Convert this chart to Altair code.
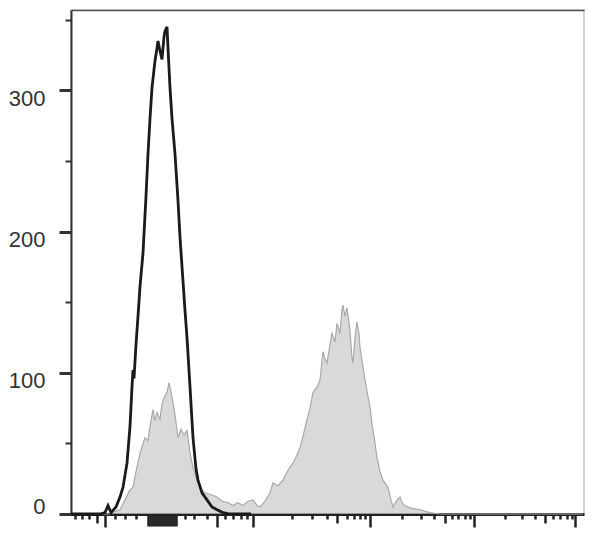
import altair as alt
import pandas as pd

# Control (black outline) histogram: channel, count
ctrl_ch = [0, 10, 14.5, 17, 18.5, 20, 22.5, 24.5, 26, 28, 29.5, 30.5, 31, 31.5, 32.5, 33.5,
           34.5, 36, 37.5, 38.5, 39.5, 40.5, 42, 43, 43.5, 44.5, 45.5, 46.5, 47, 48, 48.5,
           49.5, 50.5, 52, 53.5, 54.5, 56, 57, 58, 59.5, 61, 62.5, 63.5, 65.5, 68, 70.5,
           73, 76, 79.5, 90]
ctrl_ct = [0, 0, 0, 1, 6, 1, 5, 12, 19, 36, 62, 90, 102, 96, 120, 140,
           161, 185, 225, 255, 280, 302, 321, 330, 335, 328, 322, 338, 342, 345, 330,
           302, 280, 255, 222, 196, 165, 144, 125, 90, 54, 32, 24, 15, 10, 5,
           3, 1, 0, 0]

# Stained (grey filled) histogram: channel, count
stain_ch = [0, 19.5, 22.5, 24.5, 27, 29, 31, 32.5, 34.5, 36, 37, 38.5, 39.5, 41, 42, 43,
            44.5, 45.5, 47, 48, 49, 49.5, 51, 52, 53.5, 55, 56.5, 58, 59.5, 61, 63, 65,
            67, 69.5, 73, 75.5, 78.5, 81, 83.5, 86, 88.5, 91, 93, 94.5, 97, 99.5, 101,
            103.5, 106, 108.5, 111, 113, 114.5, 116, 118, 119.5, 121, 123, 124.5, 126,
            127, 128, 129.5, 130.5, 132, 133, 134.5, 135.5, 136, 137, 138, 139, 139.5,
            140.5, 141, 142, 143, 144, 144.5, 146, 147, 148.5, 149.5, 150.5, 152, 153,
            154.5, 156, 157.5, 158.5, 160, 161, 162.5, 164.5, 166, 168, 170.5, 174.5,
            179.5, 184.5, 256]
stain_ct = [0, 0, 2, 3, 10, 16, 19, 30, 43, 50, 54, 52, 62, 74, 66, 72,
            67, 78, 84, 86, 93, 90, 79, 70, 54, 60, 56, 59, 43, 33, 24, 18,
            15, 14, 12, 9, 8, 6, 8, 6, 9, 10, 6, 5, 9, 15, 22,
            20, 24, 31, 36, 42, 47, 55, 67, 75, 86, 90, 95, 115,
            110, 107, 120, 128, 122, 135, 128, 145, 148, 140, 146, 135, 130,
            110, 107, 125, 136, 128, 118, 104, 95, 83, 76, 64, 50, 40,
            30, 24, 21, 19, 10, 5, 9, 12, 7, 5, 4, 3,
            1, 0, 0]

assert len(ctrl_ch) == len(ctrl_ct)
assert len(stain_ch) == len(stain_ct)

# Axis ticks
y_ticks = [0, 25, 50, 75, 100, 125, 150, 175, 200, 225, 250, 275, 300, 325, 350]
y_major = [0, 100, 200, 300]
x_ticks_long = [17, 73, 91, 149.5, 201.5, 252]
x_ticks_med = [13, 133, 187, 237]
x_ticks_cluster = [38.5, 39.5, 40.5, 41.5, 42.5, 43.5, 44.5, 45.5, 46.5, 47.5, 48.5,
                   49.5, 50.5, 51.5, 52.5]
x_ticks_minor = [2, 5.5, 9, 22, 27, 32.5, 57, 61.5, 68, 77, 81, 85, 88,
                 110.5, 120.5, 128, 138, 141.5, 144.5, 147, 165.5, 175, 181.5,
                 190.5, 193.5, 197, 199.5, 217, 225.5, 232, 241, 244.5, 248, 250.5]

ctrl = pd.DataFrame({"ch": ctrl_ch, "count": ctrl_ct})
stain = pd.DataFrame({"ch": stain_ch, "count": stain_ct})

def in_list(vals):
    return "indexof([" + ",".join(repr(float(v)) for v in vals) + "], datum.value) >= 0"

x_all = sorted(x_ticks_long + x_ticks_med + x_ticks_cluster + x_ticks_minor)

xscale = alt.Scale(domain=[0, 256.5], nice=False, zero=False)
yscale = alt.Scale(domain=[0, 357], nice=False)

x_axis = alt.Axis(
    values=x_all, labels=False, title=None, grid=False,
    domainColor="#222222", domainWidth=3,
    tickColor="#222222", tickWidth=2.5,
    tickSize={"condition": [
        {"test": in_list(x_ticks_long), "value": 13},
        {"test": in_list(x_ticks_med), "value": 9},
        {"test": in_list(x_ticks_cluster), "value": 12},
    ], "value": 5},
)

y_axis = alt.Axis(
    values=y_ticks, title=None, grid=False,
    labelExpr="datum.value % 100 == 0 ? datum.label : ''",
    labelFont="Liberation Sans", labelFontSize=22, labelColor="#333333",
    labelPadding=14,
    labelOffset={"condition": {"test": "datum.value == 0", "value": -8}, "value": 8},
    domainColor="#333333", domainWidth=2,
    tickColor="#333333",
    tickSize={"condition": {"test": in_list(y_major), "value": 12}, "value": 6},
    tickWidth={"condition": {"test": in_list(y_major), "value": 3}, "value": 2},
)

area = alt.Chart(stain).mark_area(
    color="#c9c9c9", line={"color": "#a9a9a9", "strokeWidth": 1.2}, interpolate="linear"
).encode(
    x=alt.X("ch:Q", scale=xscale, axis=x_axis),
    y=alt.Y("count:Q", scale=yscale, axis=y_axis),
)

line = alt.Chart(ctrl).mark_line(color="#1a1a1a", strokeWidth=2.8).encode(
    x=alt.X("ch:Q", scale=xscale, axis=None),
    y=alt.Y("count:Q", scale=yscale),
)

topframe = alt.Chart(ctrl).mark_line(opacity=0).encode(
    x=alt.X("ch:Q", scale=xscale, axis=alt.Axis(orient="top", ticks=False, labels=False,
                                                 title=None, grid=False,
                                                 domainColor="#555555", domainWidth=1.5)),
    y=alt.Y("count:Q", scale=yscale),
)

chart = alt.layer(area, line, topframe).resolve_axis(x="independent").properties(
    width=513, height=504,
    autosize=alt.AutoSizeParams(type="none"),
    padding={"left": 63, "top": 2, "right": 16, "bottom": 23},
    background="white",
).configure_view(stroke="#c4c4c4", strokeWidth=1.5)

chart.save("out.html", embed_options={"renderer": "svg", "actions": False})
